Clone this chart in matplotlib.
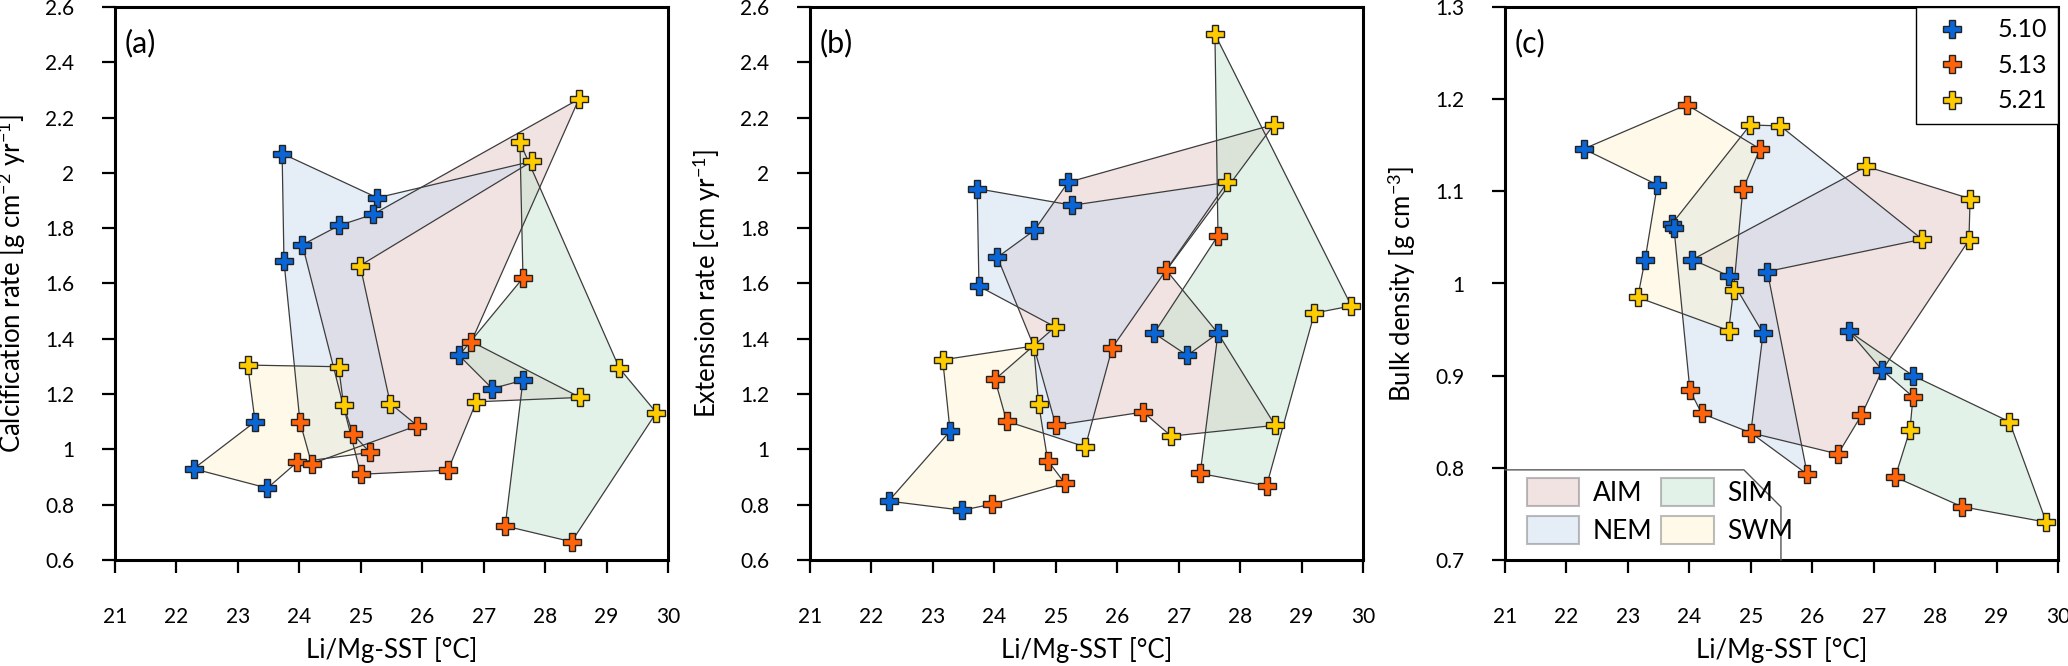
import matplotlib
matplotlib.use('Agg')
import matplotlib.pyplot as plt
from matplotlib.patches import Polygon, Patch
from matplotlib.lines import Line2D
from matplotlib.ticker import FuncFormatter, MultipleLocator

plt.rcParams['font.family'] = ['Lato', 'DejaVu Sans']
plt.rcParams['mathtext.fontset'] = 'custom'
plt.rcParams['mathtext.rm'] = 'Lato'
plt.rcParams['mathtext.it'] = 'Lato:italic'

# ── data ──────────────────────────────────────────────────────────────────────
cores = ['5.10', '5.13', '5.21']
core_colors = ['#0a66d6', '#ff640a', '#ffcc00']

# Li/Mg-SST per core, one value per month (same in every panel)
sst_510 = [23.72, 25.27, 25.20, 24.65, 24.05, 23.75, 26.60, 27.14, 27.64, 23.28, 22.28, 23.48]
sst_513 = [27.64, 26.80, 24.01, 24.87, 25.92, 25.15, 23.96, 24.20, 25.00, 26.42, 27.35, 28.43]
sst_521 = [28.55, 27.59, 27.79, 24.99, 23.16, 24.64, 29.21, 24.72, 25.48, 26.88, 28.57, 29.81]

# (a) calcification rate
calc_510 = [2.07, 1.91, 1.85, 1.81, 1.74, 1.68, 1.34, 1.22, 1.25, 1.10, 0.93, 0.86]
calc_513 = [1.62, 1.39, 1.10, 1.055, 1.086, 0.989, 0.953, 0.948, 0.91, 0.925, 0.723, 0.666]
calc_521 = [2.267, 2.111, 2.042, 1.665, 1.305, 1.299, 1.293, 1.16, 1.166, 1.172, 1.188, 1.133]

# (b) extension rate
ext_510 = [1.943, 1.883, 1.966, 1.792, 1.695, 1.590, 1.42, 1.34, 1.42, 1.066, 0.813, 0.780]
ext_513 = [1.773, 1.648, 1.253, 0.959, 1.368, 0.877, 0.802, 1.102, 1.087, 1.135, 0.913, 0.868]
ext_521 = [2.175, 2.502, 1.966, 1.443, 1.324, 1.374, 1.493, 1.166, 1.009, 1.048, 1.087, 1.519]

# (c) bulk density
dens_510 = [1.065, 1.013, 0.946, 1.008, 1.026, 1.060, 0.948, 0.906, 0.900, 1.026, 1.146, 1.107]
dens_513 = [0.877, 0.857, 0.884, 1.102, 0.793, 1.146, 1.194, 0.859, 0.838, 0.815, 0.790, 0.758]
dens_521 = [1.047, 0.841, 1.048, 1.172, 0.985, 0.949, 0.850, 0.993, 1.171, 1.127, 1.092, 0.741]

seasons = ['AIM', 'NEM', 'SIM', 'SWM']
season_colors = ['#e4c3c3', '#c7d9ef', '#bfe4cc', '#fdf2cc']

# season outlines: B = 5.10, O = 5.13, Y = 5.21, number = month index
outline_a = {
    'AIM': ['Y1', 'B3', 'B4', 'B5', 'O9', 'O10', 'Y10', 'Y11', 'O2'],
    'NEM': ['B1', 'B2', 'Y3', 'Y4', 'Y9', 'O5', 'O8', 'O3', 'B6'],
    'SIM': ['Y2', 'O1', 'B7', 'B8', 'B9', 'O11', 'O12', 'Y12', 'Y7'],
    'SWM': ['Y5', 'Y6', 'Y8', 'O4', 'O6', 'O7', 'B12', 'B11', 'B10'],
}
outline_b = {
    'AIM': ['B3', 'B4', 'B5', 'Y6', 'O9', 'O10', 'Y10', 'Y11', 'B9', 'O2', 'Y1'],
    'NEM': ['B1', 'B2', 'Y3', 'O5', 'Y9', 'O8', 'O3', 'Y4', 'B6'],
    'SIM': ['Y2', 'O1', 'B7', 'B8', 'B9', 'O11', 'O12', 'Y7', 'Y12'],
    'SWM': ['Y5', 'Y6', 'Y8', 'O4', 'O6', 'O7', 'B12', 'B11', 'B10'],
}
outline_c = {
    'AIM': ['Y10', 'Y11', 'Y1', 'B8', 'O2', 'O10', 'O9', 'B3', 'B4', 'B5'],
    'NEM': ['Y4', 'Y9', 'Y3', 'B2', 'O5', 'O9', 'O8', 'O3', 'B6', 'B1'],
    'SIM': ['B7', 'B9', 'Y7', 'Y12', 'O12', 'O11', 'Y2', 'O1', 'B8'],
    'SWM': ['O7', 'O6', 'O4', 'Y8', 'Y6', 'Y5', 'B10', 'B12', 'B11'],
}

sst = [sst_510, sst_513, sst_521]
panels = [
    ('(a)', [calc_510, calc_513, calc_521], outline_a,
     r'Calcification rate [g cm$^{\mathrm{-2}}$ yr$^{\mathrm{-1}}$]', (0.6, 2.6), 0.2),
    ('(b)', [ext_510, ext_513, ext_521], outline_b,
     r'Extension rate [cm yr$^{\mathrm{-1}}$]', (0.6, 2.6), 0.2),
    ('(c)', [dens_510, dens_513, dens_521], outline_c,
     r'Bulk density [g cm$^{\mathrm{-3}}$]', (0.7, 1.3), 0.1),
]


def outline_xy(names, vals):
    pts = []
    for n in names:
        c = 'BOY'.index(n[0])
        i = int(n[1:]) - 1
        pts.append((sst[c][i], vals[c][i]))
    return pts


# ── figure ────────────────────────────────────────────────────────────────────
fig = plt.figure(figsize=(20.68, 6.66), dpi=100)
lefts = [115, 810, 1505]
fmt = FuncFormatter(lambda v, p: f'{v:g}')

for left, (letter, vals, outlines, ylab, ylim, ystep) in zip(lefts, panels):
    ax = fig.add_axes([left / 2068, 106 / 666, 553 / 2068, 553 / 666])

    for s, col in zip(seasons, season_colors):
        xy = outline_xy(outlines[s], vals)
        ax.add_patch(Polygon(xy, closed=True, facecolor=col, alpha=0.45,
                             edgecolor='none', zorder=1))
        ax.add_patch(Polygon(xy, closed=True, facecolor='none',
                             edgecolor='#3c3c3c', lw=0.9, zorder=2))

    for c in range(3):
        ax.plot(sst[c], vals[c], ls='none', marker='P', ms=13,
                mfc=core_colors[c], mec='#222222', mew=1.0, zorder=3)

    ax.set_xlim(21, 30)
    ax.set_ylim(*ylim)
    ax.xaxis.set_major_locator(MultipleLocator(1))
    ax.yaxis.set_major_locator(MultipleLocator(ystep))
    ax.yaxis.set_major_formatter(fmt)
    ax.tick_params(direction='out', length=9.5, width=1.6, labelsize=15)
    ax.tick_params(axis='x', pad=24)
    ax.tick_params(axis='y', pad=20)
    for sp in ax.spines.values():
        sp.set_linewidth(2.2)
    ax.set_xlabel('Li/Mg-SST [°C]', fontsize=18.5)
    ax.xaxis.set_label_coords(0.5, -0.14)
    ax.set_ylabel(ylab, fontsize=18.5, labelpad=12)
    ax.text(0.018, 0.935, letter, transform=ax.transAxes, fontsize=22,
            va='center', ha='left')

    if letter == '(c)':
        core_handles = [Line2D([], [], ls='none', marker='P', ms=13, mfc=col,
                               mec='#222222', mew=1.0) for col in core_colors]
        leg1 = ax.legend(core_handles, cores, loc='upper right', fontsize=18,
                         borderaxespad=0, fancybox=False, framealpha=1,
                         edgecolor='black', handletextpad=0.8, labelspacing=0.5,
                         borderpad=0.45)
        leg1.get_frame().set_linewidth(1.0)
        ax.add_artist(leg1)

        season_handles = [Patch(facecolor=col, alpha=0.45, edgecolor='#6e6e6e', lw=1.5)
                          for col in season_colors]
        ax.legend(season_handles, seasons, ncol=2, loc='lower left',
                  bbox_to_anchor=(0.02, 0.01), fontsize=19, frameon=False,
                  handlelength=2.0, handleheight=1.2, handletextpad=0.5,
                  columnspacing=0.35, labelspacing=0.4, borderaxespad=0)
        ax.plot([0, 0.432, 0.499, 0.499], [0.163, 0.163, 0.096, 0.0],
                transform=ax.transAxes, color='#555555', lw=1.0, zorder=4,
                clip_on=False)

fig.savefig('out.png', dpi=100)
